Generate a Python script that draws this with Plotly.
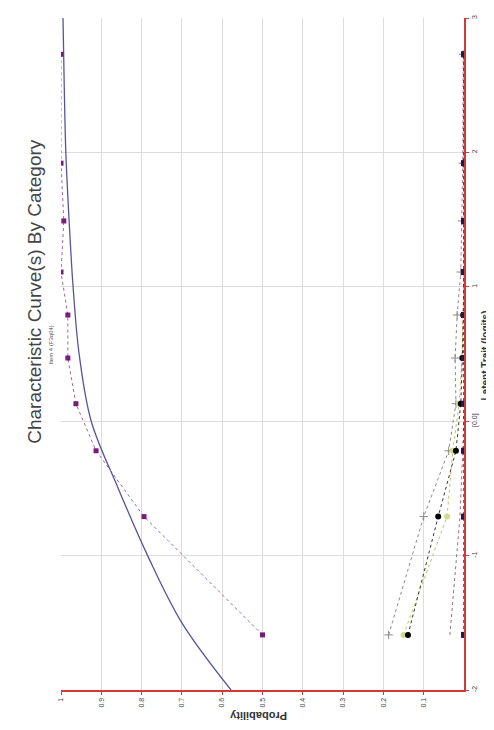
import plotly.graph_objects as go

# ---- data ----
theta_obs = [-1.59, -0.71, -0.22, 0.13, 0.47, 0.79, 1.11, 1.49, 1.92, 2.73]
p_cat_purple = [0.50, 0.794, 0.913, 0.963, 0.983, 0.983, 1.0, 0.993, 1.0, 1.0]
p_cat_grey = [0.187, 0.10, 0.038, 0.02, 0.022, 0.017, 0.008, 0.005, 0.003, 0.002]
p_cat_black = [0.139, 0.064, 0.02, 0.008, 0.004, 0.002, 0.0, 0.0, 0.0, 0.0]
p_cat_green = [0.15, 0.042, 0.028, 0.012, 0.005, 0.002, 0.0, 0.0, 0.0, 0.0]
p_cat_square = [0.035, 0.01, 0.003, 0.0, 0.0, 0.0, 0.0, 0.0, 0.0, 0.0]
p_cat_blue = [0.0, 0.0, 0.0, 0.0, 0.0, 0.0, 0.0, 0.0, 0.0, 0.0]
p_cat_navy = [0.0, 0.0, 0.0, 0.0, 0.0, 0.0, 0.0, 0.0, 0.0, 0.0]

theta_model = [-2.0, -1.5, -1.0, -0.5, 0.0, 0.5, 1.0, 1.5, 2.0, 2.5, 3.0]
p_model = [0.578, 0.70, 0.785, 0.858, 0.925, 0.955, 0.97, 0.98, 0.988, 0.992, 0.995]

prob_ticks = [1, 0.9, 0.8, 0.7, 0.6, 0.5, 0.4, 0.3, 0.2, 0.1]
prob_ticklabels = ["1", "0.9", "0.8", "0.7", "0.6", "0.5", "0.4", "0.3", "0.2", "0.1"]
trait_ticks = [-2, -1, 0, 1, 2, 3]
trait_ticklabels = ["-2", "-1", "[0.0]", "1", "2", "3"]

title_text = "Characteristic Curve(s) By Category"
subtitle_text = "Item 4 (F3q04)"
x_title = "Latent Trait (logits)"
y_title = "Probability"
default_text = "Default:  -2.30"

FONT = "Liberation Sans, Arial, sans-serif"

fig = go.Figure()

def obs(p, color, symbol, lcolor, size=5, mline=None):
    fig.add_trace(go.Scatter(
        x=p, y=theta_obs, mode="lines+markers",
        line=dict(color=lcolor, width=1, dash="dot"),
        marker=dict(color=color, symbol=symbol, size=size,
                    line=mline if mline else dict(width=0)),
        showlegend=False, hoverinfo="skip"))

fig.add_trace(go.Scatter(
    x=p_model, y=theta_model, mode="lines", line=dict(color="#55559f", width=1.3, shape="spline"),
    showlegend=False, hoverinfo="skip"))

obs(p_cat_grey, "#8a8a8a", "cross-thin", "#8a8a8a", size=6, mline=dict(color="#8a8a8a", width=1))
obs(p_cat_green, "#cfdc86", "circle", "#b8c860", size=6)
obs(p_cat_black, "#000000", "circle", "#333333", size=6)
obs(p_cat_square, "rgba(0,0,0,0)", "square-open", "#a06a80", size=6, mline=dict(color="#a06a80", width=1))
obs(p_cat_blue, "#2f6ea6", "circle", "#2f6ea6", size=6)
obs(p_cat_navy, "#1b1b4e", "square", "#1b1b4e", size=6)
obs(p_cat_purple, "#7a1a7a", "square", "#a066a0", size=5)

fig.update_layout(
    width=494, height=730,
    margin=dict(l=53, r=38, t=7, b=48),
    paper_bgcolor="white", plot_bgcolor="white",
    font=dict(family=FONT, color="#333333"),
    xaxis=dict(
        range=[1, 0], tickvals=prob_ticks, ticktext=prob_ticklabels,
        tickangle=-90, tickfont=dict(size=7, color="#444444"),
        showgrid=True, gridcolor="#dcdcdc", gridwidth=1,
        showline=True, linecolor="#d23a3a", linewidth=2,
        ticks="outside", ticklen=3, tickcolor="#d23a3a",
        zeroline=False, fixedrange=True),
    yaxis=dict(
        range=[-2, 3], side="right", tickvals=trait_ticks, ticktext=trait_ticklabels,
        tickangle=-90, tickfont=dict(size=7, color="#444444"),
        showgrid=True, gridcolor="#dcdcdc", gridwidth=1,
        showline=True, linecolor="#d23a3a", linewidth=2,
        ticks="outside", ticklen=3, tickcolor="#d23a3a",
        zeroline=False, fixedrange=True),
)

ann = [
    dict(text=title_text, x=27, y=282, textangle=-90, font=dict(size=19, color="#444444")),
    dict(text=subtitle_text, x=43, y=336, textangle=-90, font=dict(size=6, color="#555555")),
    dict(text="<b>" + x_title + "</b>", x=477, y=346, textangle=-90, font=dict(size=10, color="#333333")),
    dict(text="<b>" + y_title + "</b>", x=250, y=708, textangle=180, font=dict(size=11, color="#333333")),
    dict(text=default_text, x=483, y=662, textangle=-90, font=dict(size=7, color="#555555")),
]
for a in ann:
    fig.add_annotation(
        text=a["text"], xref="paper", yref="paper",
        x=(a["x"] - 53) / (494 - 53 - 38), y=1 - (a["y"] - 7) / (730 - 7 - 48),
        xanchor="center", yanchor="middle", showarrow=False, borderpad=0,
        textangle=a["textangle"], font=dict(family=FONT, **a["font"]))

fig.write_html("out.html")
